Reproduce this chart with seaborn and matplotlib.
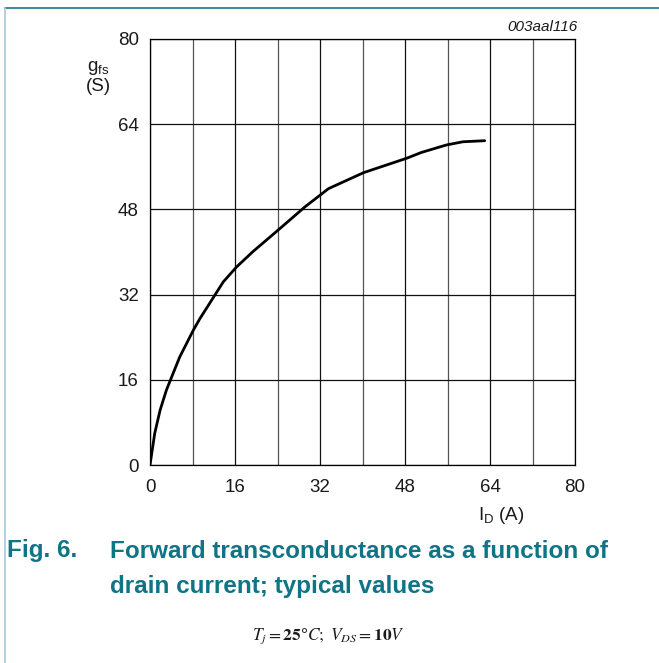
import numpy as np
import matplotlib
matplotlib.use("Agg")
import matplotlib.pyplot as plt
import seaborn as sns
from matplotlib.lines import Line2D

# drain current I_D (A) and forward transconductance g_fs (S)
drain_current = [0, 0.9, 1.9, 3.1, 5.6, 8.2, 9.4, 13.8, 16.3, 19.4, 24.1, 29.2,
                 33.6, 40.2, 48.3, 51.1, 55.8, 58.9, 63.0]
transconductance = [0, 6.0, 10.3, 14.1, 20.3, 25.4, 27.5, 34.4, 37.2, 40.1, 44.1,
                    48.5, 51.9, 54.9, 57.6, 58.7, 60.1, 60.7, 60.9]

x_ticks = [0, 16, 32, 48, 64, 80]
y_ticks = [0, 16, 32, 48, 64, 80]
x_minor = [8, 24, 40, 56, 72]

sns.set_style("white")
plt.rcParams['font.family'] = ['Liberation Sans', 'DejaVu Sans']
plt.rcParams['mathtext.fontset'] = 'stix'

W, H = 659, 663
fig = plt.figure(figsize=(W / 100, H / 100), dpi=100)
ax = fig.add_axes([150 / W, 1 - 465 / H, 425 / W, 426 / H])

sns.lineplot(x=drain_current, y=transconductance, ax=ax, color='black',
             linewidth=2.0, sort=False, estimator=None)

ax.set_xlim(0, 80)
ax.set_ylim(0, 80)
ax.set_xticks(x_ticks)
ax.set_xticks(x_minor, minor=True)
ax.set_yticks(y_ticks)
ax.set_xticklabels([str(v) for v in x_ticks], fontsize=13.5, color='#1a1a1a')
ax.set_yticklabels([str(v) for v in y_ticks], fontsize=13.5, color='#1a1a1a')
ax.tick_params(axis='x', which='both', length=0, pad=10)
ax.tick_params(axis='y', which='both', length=0, pad=8)
ax.grid(True, which='major', color='#111111', linewidth=0.9)
ax.grid(True, which='minor', axis='x', color='#555555', linewidth=0.9)
ax.set_axisbelow(True)
for s in ax.spines.values():
    s.set_color('black')
    s.set_linewidth(0.9)
ax.set_xlabel('')
ax.set_ylabel('')

# axis labels and figure id
fig.text(98 / W, 1 - 77 / H, '$\\mathregular{g_{fs}}$\n(S)', ha='center', va='center',
         fontsize=13.5, color='#1a1a1a', linespacing=1.05)
fig.text(501 / W, 1 - 505 / H, '$\\mathregular{I_D}$ (A)', ha='center', va='top',
         fontsize=13.5, color='#1a1a1a')
fig.text(578 / W, 1 - 27 / H, '003aal116', ha='right', va='center',
         fontsize=11, style='italic', color='#1a1a1a')

# frame lines of the figure box
fig.add_artist(Line2D([5 / W, 1], [1 - 8 / H, 1 - 8 / H], transform=fig.transFigure,
                      color='#15788a', linewidth=1.2))
fig.add_artist(Line2D([5 / W, 5 / W], [0, 1 - 8 / H], transform=fig.transFigure,
                      color='#a5cad8', linewidth=1.2))

teal = '#0f7485'
fig.text(7 / W, 1 - 551 / H, 'Fig. 6.', ha='left', va='center', fontsize=17.5,
         fontweight='bold', color=teal)
fig.text(110 / W, 1 - 551 / H, 'Forward transconductance as a function of',
         ha='left', va='center', fontsize=17.5, fontweight='bold', color=teal)
fig.text(110 / W, 1 - 586 / H, 'drain current; typical values',
         ha='left', va='center', fontsize=17.5, fontweight='bold', color=teal)

fig.text(328 / W, 1 - 636 / H, r'$T_j = \mathbf{25°}C;\ V_{DS} = \mathbf{10}V$',
         ha='center', va='center', fontsize=12.5, color='#1a1a1a')

fig.savefig('out.png', dpi=100)
